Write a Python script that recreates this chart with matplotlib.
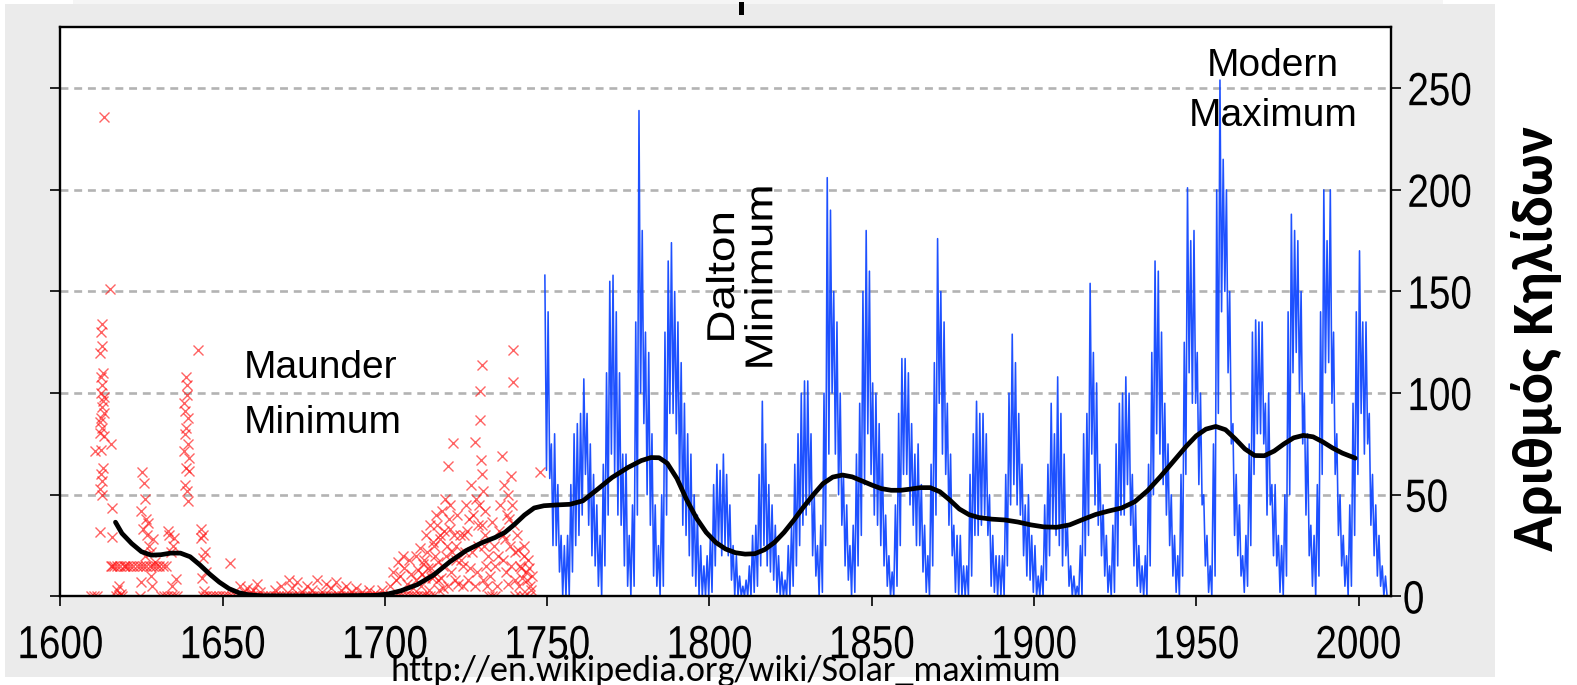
import numpy as np
import matplotlib
matplotlib.use("Agg")
import matplotlib.pyplot as plt
from matplotlib import font_manager as fm
from matplotlib.patches import Rectangle
from matplotlib.patheffects import AbstractPathEffect
from matplotlib.transforms import Affine2D

# ---------------- data ----------------
# monthly sunspot numbers (upper / lower envelope per year), 1749-2008
blue_start = 1749
blue_hi = [
    158, 140, 75, 80, 55, 30, 25, 30, 55, 80,
    85, 90, 107, 90, 75, 60, 45, 30, 65, 110,
    155, 158, 140, 110, 70, 70, 30, 45, 135, 239,
    180, 130, 120, 80, 45, 25, 50, 130, 165, 174,
    150, 135, 115, 95, 80, 70, 50, 40, 25, 15,
    20, 30, 55, 65, 62, 70, 60, 45, 25, 20,
    10, 5, 8, 15, 30, 35, 60, 96, 75, 55,
    45, 35, 20, 12, 8, 25, 35, 65, 80, 100,
    106, 106, 80, 50, 25, 35, 100, 206, 190, 150,
    135, 100, 60, 45, 25, 35, 70, 95, 150, 180,
    160, 105, 100, 85, 70, 40, 20, 12, 45, 90,
    117, 117, 110, 85, 70, 75, 55, 35, 20, 65,
    115, 176, 150, 135, 95, 70, 35, 30, 30, 15,
    15, 60, 80, 96, 90, 90, 80, 50, 30, 20,
    20, 20, 60, 100, 129, 115, 90, 65, 45, 50,
    30, 25, 10, 15, 45, 65, 95, 80, 108, 90,
    70, 35, 15, 10, 5, 25, 80, 90, 154, 120,
    105, 65, 45, 30, 15, 35, 75, 95, 100, 108,
    100, 60, 45, 25, 15, 20, 65, 120, 165, 160,
    130, 95, 75, 50, 30, 20, 60, 125, 201, 175,
    180, 120, 100, 50, 30, 15, 75, 200, 254, 215,
    200, 150, 85, 60, 45, 20, 30, 75, 130, 136,
    135, 135, 95, 100, 55, 55, 30, 25, 50, 140,
    188, 180, 175, 150, 100, 80, 35, 30, 55, 140,
    200, 175, 200, 130, 80, 50, 30, 20, 45, 95,
    140, 170, 135, 135, 90, 60, 45, 30, 15, 10,
]
blue_lo = [
    62, 58, 25, 25, 12, 0, 0, 0, 12, 25,
    30, 40, 60, 35, 20, 15, 5, 0, 15, 40,
    70, 60, 40, 35, 15, 5, 0, 5, 40, 100,
    85, 50, 35, 10, 5, 0, 5, 40, 90, 90,
    80, 55, 35, 30, 20, 10, 5, 0, 0, 0,
    0, 2, 15, 25, 20, 25, 20, 8, 0, 0,
    0, 0, 0, 0, 2, 5, 15, 25, 15, 12,
    8, 2, 0, 0, 0, 0, 5, 15, 25, 35,
    40, 45, 20, 10, 0, 2, 25, 70, 100, 70,
    50, 35, 15, 8, 0, 2, 15, 30, 55, 80,
    60, 40, 35, 25, 15, 5, 0, 0, 5, 25,
    60, 60, 45, 35, 25, 25, 12, 2, 0, 15,
    40, 95, 70, 60, 35, 20, 2, 0, 0, 0,
    0, 10, 30, 30, 35, 40, 30, 5, 2, 0,
    0, 0, 15, 45, 55, 45, 40, 20, 10, 8,
    2, 0, 0, 0, 8, 20, 35, 30, 25, 15,
    20, 5, 0, 0, 0, 0, 20, 30, 70, 45,
    35, 20, 10, 2, 0, 2, 15, 40, 40, 55,
    35, 15, 5, 2, 0, 0, 15, 50, 80, 70,
    55, 40, 25, 10, 2, 0, 10, 60, 110, 95,
    95, 55, 45, 15, 2, 0, 10, 90, 140, 150,
    110, 75, 30, 20, 10, 2, 5, 25, 60, 80,
    80, 75, 40, 45, 20, 15, 2, 0, 10, 50,
    110, 120, 100, 75, 40, 20, 5, 0, 10, 60,
    110, 115, 95, 60, 30, 15, 5, 0, 5, 30,
    60, 90, 70, 75, 35, 20, 10, 5, 0, 0,
]

# early telescopic observations (red crosses)
red_year = [
    1613.4, 1615.3, 1612.8, 1612.5, 1613.0, 1612.3, 1613.2, 1612.6, 1612.4, 1613.1,
    1612.7, 1612.5, 1613.0, 1612.2, 1613.4, 1612.6, 1613.1, 1612.4, 1612.9, 1612.3,
    1612.8, 1610.8, 1615.7, 1616.0, 1612.2, 1616.0, 1613.5, 1612.9, 1612.1, 1613.6,
    1615.5, 1616.5, 1617.5, 1618.5, 1619.5, 1620.5, 1621.5, 1622.5, 1623.5, 1624.5,
    1625.5, 1626.5, 1627.5, 1628.5, 1629.5, 1630.5, 1631.5, 1632.5, 1616.0, 1620.0,
    1618.0, 1618.6, 1617.6,
    1625.3, 1625.8, 1626.0, 1624.9, 1626.4, 1625.5, 1626.8, 1627.3, 1626.2, 1627.8,
    1625.0, 1628.3, 1627.0, 1628.0, 1628.7, 1629.2,
    1633.6, 1634.6, 1633.2, 1635.0, 1634.0, 1635.5, 1634.5,
    1638.6, 1639.0, 1638.2, 1639.4, 1638.8, 1638.4, 1639.2, 1638.0, 1638.6, 1639.6,
    1638.3, 1639.0, 1639.4, 1638.9, 1639.8, 1638.5, 1642.3,
    1643.5, 1643.9, 1643.2, 1644.0, 1643.6, 1644.3, 1644.6, 1645.0, 1652.3,
    1655.5, 1656.5, 1657.5, 1658.5, 1659.5, 1660.5, 1661.5,
    1666.0, 1668.0, 1670.5, 1671.5, 1673.0, 1674.5, 1676.0, 1677.5, 1679.0, 1680.5,
    1682.0, 1683.5, 1685.0, 1686.5, 1688.0, 1689.5, 1691.0, 1693.0, 1695.0, 1697.0,
    1699.0,
    1701.5, 1702.5, 1703.5, 1704.0, 1704.8, 1705.5, 1706.0, 1706.7, 1707.3, 1708.0,
    1708.7, 1709.5, 1710.2, 1711.0, 1711.7, 1712.4, 1713.0, 1713.6, 1714.2, 1714.8,
    1715.5, 1716.0, 1716.5, 1717.0, 1717.5, 1718.0, 1718.5, 1719.0, 1719.5, 1719.8,
    1720.2, 1720.5, 1721.0, 1721.3, 1721.8, 1722.2, 1722.6, 1716.8, 1718.2, 1720.8,
    1715.2, 1717.8,
    1724.0, 1724.5, 1725.0, 1725.5, 1726.0, 1726.5, 1727.0, 1727.7, 1728.0, 1728.4,
    1728.8, 1729.3, 1729.3, 1729.5, 1729.8, 1729.8, 1730.2, 1730.5, 1730.8, 1731.2,
    1731.5, 1732.9, 1732.5,
    1735.0, 1735.5, 1736.0, 1736.3, 1736.8, 1737.2, 1737.6, 1738.0, 1738.5, 1739.0,
    1739.5, 1739.5, 1739.8, 1740.2,
    1741.0, 1741.6, 1742.2, 1742.8, 1743.4, 1744.0, 1744.7, 1745.2, 1747.7,
    1709.5, 1710.8, 1711.3, 1712.0, 1712.8, 1713.3, 1714.0, 1714.5, 1715.0, 1715.8,
    1716.3, 1716.9, 1717.3, 1718.8, 1719.3, 1720.0, 1721.5, 1722.0, 1723.0, 1723.5,
    1724.2, 1724.8, 1725.3, 1726.2, 1727.3, 1727.9, 1728.6, 1729.0, 1730.0, 1730.3,
    1731.0, 1731.8, 1733.5, 1734.0, 1734.5, 1735.3, 1736.5, 1737.0, 1737.8, 1738.3,
    1738.8, 1739.3, 1740.0, 1740.6, 1741.3, 1742.0, 1743.0, 1743.8, 1744.3, 1745.0,
]
red_count = [
    236, 151, 134, 130, 123, 119.5, 110, 108, 100, 96,
    93, 88, 83, 80.6, 79, 72, 63, 60, 56.6, 53,
    50, 71.5, 75, 43.4, 31.8, 29.3, 98, 104, 86, 90,
    15, 15, 15, 15, 15, 15, 15, 15, 15, 15,
    15, 15, 15, 15, 15, 15, 15, 15, 15, 15,
    5, 1, 3,
    61, 56, 48, 42, 38, 33, 30, 25, 20, 10,
    7, 5, 36, 22, 28, 17,
    30, 25, 32, 28.5, 22, 8.6, 5.3,
    108, 104, 95, 88, 83, 80, 75, 71.5, 63, 61.6,
    55, 51.7, 46.7, 99, 68, 91, 121,
    33, 30, 28.5, 19, 9, 2.6, 22, 12, 16.5,
    5, 2, 4, 1.5, 3, 6, 2,
    3, 5, 8, 4, 7, 2, 5, 3, 8, 2,
    6, 4, 7, 3, 5, 2, 4, 2, 3, 1.5,
    3,
    5, 12, 8, 17, 10, 20, 14, 6, 18, 11,
    4, 8, 13, 5, 16, 9, 22, 3, 14, 27,
    20, 35, 8, 28, 42, 15, 48, 25, 64, 38,
    45, 12, 75.6, 30, 18, 40, 6, 3, 32, 22,
    10, 4,
    15, 30, 45, 8, 38, 55, 22, 76, 48, 12,
    35, 101, 87, 67, 113.8, 60, 52, 25, 42, 15,
    5, 36.5, 10,
    20, 45, 69, 30, 55, 12, 40, 50, 25, 59,
    105.7, 121, 35, 8,
    23, 15, 9, 20, 12, 18, 5, 10, 61,
    20, 24, 11, 18, 30, 14, 35, 9, 25, 40,
    17, 30, 9, 20, 5, 33, 8, 25, 30, 18,
    5, 22, 32, 14, 40, 5, 25, 45, 35, 8,
    30, 20, 25, 15, 5, 32, 18, 28, 6, 38,
    15, 45, 22, 30, 5, 14, 25, 8, 14, 3,
]
# years with zero recorded spots
red_zero_year = [
    1609.5, 1610.3, 1611.2, 1617.2, 1618.0, 1619.0, 1624.7, 1631.0, 1632.0, 1633.0,
    1634.0, 1635.0, 1636.0,
    1644, 1645, 1646, 1647, 1648, 1649, 1650, 1651, 1652, 1653,
    1654, 1655, 1656, 1657, 1658, 1659, 1660, 1661, 1662, 1663,
    1664, 1665, 1666, 1667, 1668, 1669, 1670, 1671, 1672, 1673,
    1674, 1675, 1676, 1677, 1678, 1679, 1680, 1681, 1682, 1683,
    1684, 1685, 1686, 1687, 1688, 1689, 1690, 1691, 1692, 1693,
    1694, 1695, 1696, 1697, 1698, 1699, 1700, 1701, 1702, 1703,
    1704, 1705, 1706, 1707, 1708, 1709, 1710, 1711, 1712, 1713,
    1714, 1732, 1733, 1734, 1740, 1741.5, 1743, 1744.5,
]

# smoothed long-term average (black curve)
smooth_year = [
    1617, 1619, 1622, 1625, 1628, 1631, 1634, 1637, 1640, 1643, 1646, 1649, 1652,
    1655, 1658, 1662, 1680, 1697, 1701, 1705, 1710, 1715, 1720, 1725, 1730, 1734,
    1737, 1740, 1743, 1746, 1749, 1753, 1757, 1761, 1765, 1770, 1775, 1779, 1782,
    1784.5, 1787, 1790, 1793, 1796, 1799, 1802, 1805, 1808, 1811, 1814, 1817,
    1820, 1823, 1826, 1829, 1832, 1835, 1838, 1841, 1844, 1847, 1850, 1853,
    1856, 1859, 1862, 1865, 1868, 1871, 1874, 1877, 1880, 1883, 1887, 1891,
    1895, 1899, 1903, 1907, 1911, 1915, 1919, 1923, 1927, 1931, 1935, 1939,
    1943, 1947, 1950, 1953, 1956, 1959, 1962, 1965, 1968, 1971, 1974, 1977,
    1980, 1983, 1986, 1989, 1992, 1995, 1999,
]
smooth_val = [
    36.5, 31, 26, 22, 20.3, 20.5, 21.3, 21.3, 19.5, 15.5, 11, 7, 3.8,
    1.8, 0.8, 0.3, 0.2, 0.5, 1.2, 2.8, 5.8, 10.5, 17, 22.5, 26.5, 29,
    31.5, 35.5, 40, 43.5, 44.6, 45, 45.3, 47, 52, 58.5, 63.5, 66.8, 68.3,
    68.2, 65.5, 58, 47.5, 38.5, 31.5, 26.5, 23.3, 21.5, 20.8, 21, 23,
    26.5, 31.5, 37.5, 44, 50, 55.5, 58.7, 59.7, 58.8, 56.8, 54.8, 53,
    52.2, 52.2, 52.8, 53.5, 53.5, 51.5, 47.5, 43, 40.2, 38.8, 38, 37.6,
    36.6, 35.2, 34.2, 34, 35.2, 37.8, 40.3, 42, 43.5, 46.5, 52, 59,
    66.5, 74, 79, 82.3, 83.6, 82, 77.5, 72.5, 69.3, 69.2, 71.5, 75,
    78, 79.2, 78.5, 76, 73, 70.5, 68,
]

x_ticks = [1600, 1650, 1700, 1750, 1800, 1850, 1900, 1950, 2000]
y_ticks = [0, 50, 100, 150, 200, 250]
ylabel_text = "Αριθμός Κηλίδων"
source_text = "http://en.wikipedia.org/wiki/Solar_maximum"
notes = [("Maunder\nMinimum", 1656.5, 80.5, 0, "left"),
         ("Dalton\nMinimum", 1810.4, 157, 90, "center"),
         ("Modern\nMaximum", 1973.7, 231.5, 0, "center")]


# ---------------- helpers ----------------
class Stretch(AbstractPathEffect):
    """Scale a text path along its own baseline direction, about its centre."""
    def __init__(self, sx):
        super().__init__()
        self.sx = sx

    def draw_path(self, renderer, gc, tpath, affine, rgbFace=None):
        ext = tpath.get_extents()
        cx = 0.5 * (ext.x0 + ext.x1)
        t = Affine2D().translate(-cx, 0).scale(self.sx, 1).translate(cx, 0)
        renderer.draw_path(gc, tpath, t + affine, rgbFace)


names = {f.name for f in fm.fontManager.ttflist}
def pick(*cands):
    for n in cands:
        if n in names:
            return n
    return "DejaVu Sans"
NARROW = pick("Liberation Sans Narrow", "Arial Narrow")
narrow_ok = NARROW != "DejaVu Sans"
if not narrow_ok:
    NARROW = pick("Liberation Sans", "Arial")
ARIAL = pick("Liberation Sans", "Arial")
CALIBRI = pick("Carlito", "Calibri", "Open Sans", "Noto Sans")
tick_squeeze = 1.0 if narrow_ok else 0.83

# ---------------- figure ----------------
W, H = 1577, 685
fig = plt.figure(figsize=(W / 100, H / 100), dpi=100)
fig.patch.set_facecolor("white")
fig.add_artist(Rectangle((5 / W, 1 - 677 / H), 1490 / W, 673 / H,
                         transform=fig.transFigure, facecolor="#ebebeb",
                         edgecolor="none", zorder=0))
fig.add_artist(Rectangle((73 / W, 1 - 4 / H), 1370 / W, 4 / H,
                         transform=fig.transFigure, facecolor="#f5f5f5",
                         edgecolor="none", zorder=0))
fig.add_artist(Rectangle((739 / W, 1 - 15 / H), 5 / W, 13 / H,
                         transform=fig.transFigure, facecolor="black",
                         edgecolor="none", zorder=1))

ax = fig.add_axes([60.3 / W, 1 - 596.4 / H, (1391 - 60.3) / W, (596.4 - 27.2) / H])
ax.set_facecolor("white")
ax.set_xlim(1600, 2010)
ax.set_ylim(0, 280)
ax.set_yticks(y_ticks)
ax.set_xticks(x_ticks)
ax.grid(axis="y", color="#b3b3b3", linewidth=1.9, linestyle=(0, (3.0, 2.2)), zorder=0.5)
ax.grid(axis="x", visible=False)

# blue monthly envelope, drawn as a zig-zag between upper and lower values
yrs = np.arange(blue_start, blue_start + len(blue_hi))
bx = np.empty(2 * len(yrs))
by = np.empty(2 * len(yrs))
bx[0::2] = yrs + 0.3
bx[1::2] = yrs + 0.8
by[0::2] = blue_hi
by[1::2] = blue_lo
ax.plot(bx, by, color="#1248ff", linewidth=1.15, alpha=0.95, zorder=2)

# red crosses
ax.plot(red_year, red_count, linestyle="none", marker="x", markersize=7.5,
        markeredgewidth=1.0, color="#ff1010", alpha=0.65, zorder=2.2)
ax.plot(red_zero_year, np.zeros(len(red_zero_year)), linestyle="none", marker="x",
        markersize=7.5, markeredgewidth=1.0, color="#ff1010", alpha=0.65, zorder=2.2)

# black smoothed curve
ax.plot(smooth_year, smooth_val, color="black", linewidth=3.4,
        solid_capstyle="round", solid_joinstyle="round", zorder=3)

# spines and ticks
for s in ax.spines.values():
    s.set_linewidth(1.7)
    s.set_color("black")
    s.set_zorder(4)
ax.tick_params(axis="both", direction="out", length=7, width=1.2, color="black")
ax.tick_params(axis="y", left=True, right=True, labelleft=False, labelright=True, pad=0)
ax.tick_params(axis="x", top=False, bottom=True, pad=13)
for lab in ax.get_xticklabels() + ax.get_yticklabels():
    lab.set_fontfamily(NARROW)
    lab.set_fontsize(33.5)
    if tick_squeeze != 1.0:
        lab.set_path_effects([Stretch(tick_squeeze)])

# annotations
for txt, x, y, rot, ma in notes:
    if rot == 90:
        ax.text(x, y, txt, rotation=90, ha="center", va="center", multialignment=ma,
                fontsize=28, family=ARIAL, linespacing=1.08, zorder=5,
                path_effects=[Stretch(1.18)])
    elif ma == "left":
        ax.text(x, y, txt, ha="left", va="baseline", multialignment=ma,
                fontsize=28, family=ARIAL, linespacing=1.68, zorder=5)
    else:
        ax.text(x, y, txt, ha="center", va="baseline", multialignment=ma,
                fontsize=28, family=ARIAL, linespacing=1.5, zorder=5)

fig.text(1536 / W, 1 - 338 / H, ylabel_text, rotation=90, ha="center", va="center",
         fontsize=42, fontweight="bold", family=[CALIBRI, "DejaVu Sans"])
fig.text(726 / W, 1 - 681 / H, source_text, ha="center", va="baseline",
         fontsize=26, family=[CALIBRI, "DejaVu Sans"], zorder=6)

fig.savefig("out.png", dpi=100)
